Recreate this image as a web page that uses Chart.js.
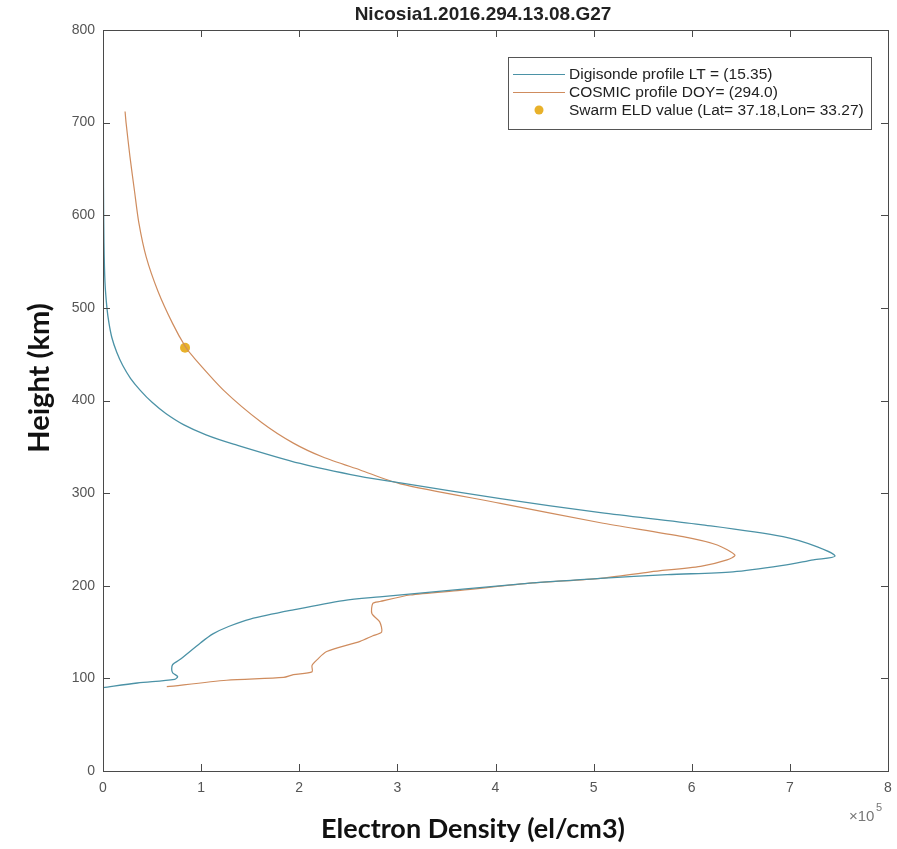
<!DOCTYPE html>
<html>
<head>
<meta charset="utf-8">
<script src="https://cdn.jsdelivr.net/npm/chart.js@4.4.1/dist/chart.umd.min.js"></script>
<style>
  html, body { margin: 0; padding: 0; background: #fff; }
  #wrap { width: 897px; height: 849px; }
</style>
</head>
<body>
<div id="wrap"><canvas id="c" width="897" height="849"></canvas></div>
<script>
// ---- Data (electron density in units of 1e5 el/cm3, height in km) ----
const chartTitle = "Nicosia1.2016.294.13.08.G27";
const xAxisTitle = "Electron Density (el/cm3)";
const yAxisTitle = "Height (km)";
const xTicks = [0, 1, 2, 3, 4, 5, 6, 7, 8];
const yTicks = [0, 100, 200, 300, 400, 500, 600, 700, 800];

const digisondeLabel = "Digisonde profile LT = (15.35)";
const digisondeDensity = [0.00, 0.35, 0.73, 0.76, 0.71, 0.70, 0.71, 0.78, 0.99, 1.12, 1.28, 1.50, 1.94, 2.45, 2.82, 3.64, 4.38, 5.07, 5.75, 6.42, 6.93, 7.24, 7.46, 7.28, 6.93, 6.09, 5.07, 4.05, 3.03, 2.62, 2.01, 1.33, 1.05, 0.82, 0.64, 0.50, 0.38, 0.28, 0.20, 0.14, 0.09, 0.06, 0.04, 0.02, 0.01, 0.005, 0.002];
const digisondeHeight  = [90, 95, 99, 102, 106, 110, 115, 120, 138, 148, 156, 164, 174, 184, 188, 196, 203, 208, 212, 215, 222, 228, 232, 242, 253, 266, 279, 294, 311, 318, 332, 353, 363, 374, 386, 398, 411, 424, 438, 452, 468, 484, 500, 528, 570, 630, 725];

const cosmicLabel = "COSMIC profile DOY= (294.0)";
const cosmicDensity = [0.65, 1.26, 1.84, 1.94, 2.13, 2.13, 2.18, 2.28, 2.62, 2.75, 2.84, 2.82, 2.74, 2.75, 2.82, 3.13, 3.64, 4.38, 5.07, 5.58, 6.09, 6.36, 6.44, 6.26, 5.91, 5.07, 4.05, 3.03, 2.62, 2.24, 1.94, 1.62, 1.23, 0.92, 0.84, 0.71, 0.56, 0.44, 0.365, 0.32, 0.275, 0.235, 0.225];
const cosmicHeight  = [91, 98, 101, 104, 107, 114, 120, 129, 140, 146, 150, 161, 170, 181, 183, 190, 195, 203, 208, 215, 221, 228, 233, 244, 253, 268, 289, 310, 325, 339, 354, 376, 411, 447, 458, 483, 518, 555, 592, 627, 663, 700, 712];

const swarmLabel = "Swarm ELD value (Lat= 37.18,Lon= 33.27)";
const swarmDensity = [0.836];
const swarmHeight  = [457];

// ---- build datasets ----
const toXY = (xs, ys) => xs.map((x, i) => ({ x: x, y: ys[i] }));

const COL_DIGI = "#4b92a6";
const COL_COSMIC = "#cf8c5e";
const COL_SWARM = "#e8b12a";
const AXIS_COL = "#4a4a4a";
const TICK_COL = "#555555";

const frameAndText = {
  id: "frameAndText",
  afterDatasetsDraw(chart) {
    const ctx = chart.ctx;
    const a = chart.chartArea;
    const xs = chart.scales.x, ys = chart.scales.y;
    ctx.save();
    // box
    ctx.strokeStyle = AXIS_COL;
    ctx.lineWidth = 1;
    ctx.strokeRect(Math.round(a.left) + 0.5, Math.round(a.top) + 0.5, Math.round(a.right - a.left), Math.round(a.bottom - a.top));
    // inward ticks
    const tl = 7;
    ctx.beginPath();
    xTicks.forEach(v => {
      const px = Math.round(xs.getPixelForValue(v)) + 0.5;
      ctx.moveTo(px, a.bottom); ctx.lineTo(px, a.bottom - tl);
      ctx.moveTo(px, a.top); ctx.lineTo(px, a.top + tl);
    });
    yTicks.forEach(v => {
      const py = Math.round(ys.getPixelForValue(v)) + 0.5;
      ctx.moveTo(a.left, py); ctx.lineTo(a.left + tl, py);
      ctx.moveTo(a.right, py); ctx.lineTo(a.right - tl, py);
    });
    ctx.stroke();

    // legend box
    const lx = 508, ly = 57, lw = 363, lh = 72;
    ctx.fillStyle = "#fff";
    ctx.fillRect(lx, ly, lw, lh);
    ctx.strokeStyle = "#555";
    ctx.strokeRect(lx + 0.5, ly + 0.5, lw, lh);
    ctx.font = "15.5px 'Liberation Sans', Arial, sans-serif";
    ctx.textBaseline = "middle";
    ctx.textAlign = "left";
    const rows = [74, 92, 110];
    chart.data.datasets.forEach((ds, i) => {
      const ry = rows[i];
      if (ds.showLine) {
        ctx.strokeStyle = ds.borderColor;
        ctx.lineWidth = 1.2;
        ctx.beginPath();
        ctx.moveTo(513, ry + 0.5); ctx.lineTo(565, ry + 0.5);
        ctx.stroke();
      } else {
        ctx.fillStyle = ds.backgroundColor;
        ctx.beginPath();
        ctx.arc(539, ry, 4.5, 0, Math.PI * 2);
        ctx.fill();
      }
      ctx.fillStyle = "#222";
      ctx.fillText(ds.label, 569, ry + 1);
    });

    // title
    ctx.fillStyle = "#222";
    ctx.font = "bold 19px 'Liberation Sans', Arial, sans-serif";
    ctx.textAlign = "center";
    ctx.textBaseline = "middle";
    ctx.fillText(chartTitle, 483, 15);

    // axis titles
    ctx.fillStyle = "#111";
    ctx.font = "bold 27px Lato, 'Open Sans', sans-serif";
    ctx.fillText(xAxisTitle, 473, 829);
    ctx.save();
    ctx.translate(40, 378);
    ctx.rotate(-Math.PI / 2);
    ctx.font = "bold 29px Lato, 'Open Sans', sans-serif";
    ctx.fillText(yAxisTitle, 0, 0);
    ctx.restore();

    // x10^5 multiplier
    ctx.fillStyle = "#777";
    ctx.font = "15px 'Liberation Sans', Arial, sans-serif";
    ctx.textAlign = "left";
    ctx.fillText("\u00d710", 849, 817);
    ctx.font = "11px 'Liberation Sans', Arial, sans-serif";
    ctx.fillText("5", 876, 808);
    ctx.restore();
  }
};

new Chart(document.getElementById("c"), {
  type: "scatter",
  data: {
    datasets: [
      { label: digisondeLabel, data: toXY(digisondeDensity, digisondeHeight), showLine: true, borderColor: COL_DIGI, backgroundColor: COL_DIGI, borderWidth: 1.3, pointRadius: 0, tension: 0.3 },
      { label: cosmicLabel, data: toXY(cosmicDensity, cosmicHeight), showLine: true, borderColor: COL_COSMIC, backgroundColor: COL_COSMIC, borderWidth: 1.2, pointRadius: 0, tension: 0.25 },
      { label: swarmLabel, data: toXY(swarmDensity, swarmHeight), showLine: false, borderColor: COL_SWARM, backgroundColor: COL_SWARM, pointRadius: 5, pointBorderWidth: 0 }
    ]
  },
  options: {
    responsive: false,
    animation: false,
    layout: { padding: { top: 30, right: 9, left: 0, bottom: 0 } },
    plugins: { legend: { display: false }, tooltip: { enabled: false }, title: { display: false } },
    scales: {
      x: {
        type: "linear", min: 0, max: 8,
        afterFit(s) { s.height = 78; s.paddingLeft = 0; s.paddingRight = 0; },
        afterBuildTicks(s) { s.ticks = xTicks.map(v => ({ value: v })); },
        grid: { display: false, drawTicks: false },
        border: { display: false },
        ticks: { padding: 9, color: TICK_COL, font: { size: 14, family: "'Liberation Sans', Arial, sans-serif" } }
      },
      y: {
        type: "linear", min: 0, max: 800,
        afterFit(s) { s.width = 103; s.paddingTop = 0; s.paddingBottom = 0; },
        afterBuildTicks(s) { s.ticks = yTicks.map(v => ({ value: v })); },
        grid: { display: false, drawTicks: false },
        border: { display: false },
        ticks: { padding: 8, color: TICK_COL, font: { size: 14, family: "'Liberation Sans', Arial, sans-serif" } }
      }
    }
  },
  plugins: [frameAndText]
});
</script>
</body>
</html>
